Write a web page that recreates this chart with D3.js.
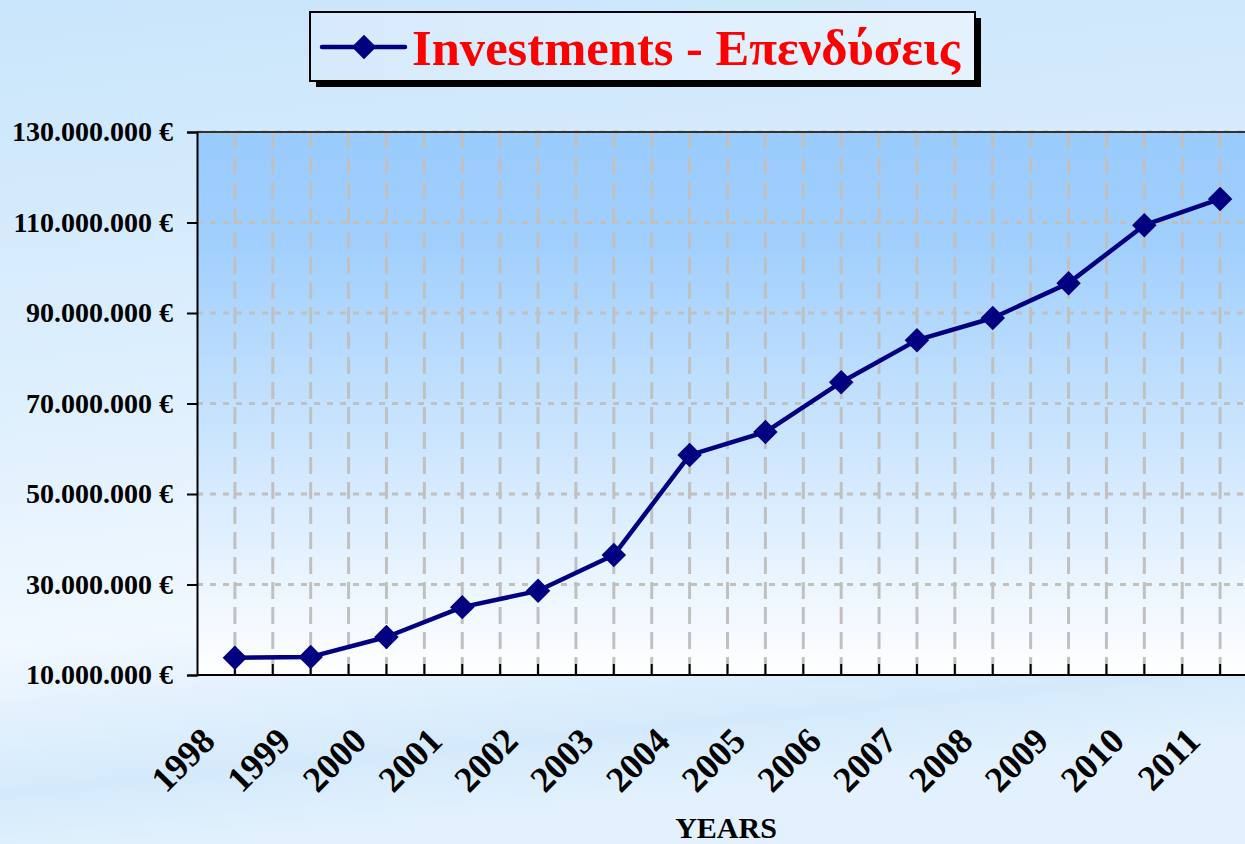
<!DOCTYPE html>
<html lang="en">
<head>
<meta charset="UTF-8">
<title>Investments</title>
<style>
  html, body { margin: 0; padding: 0; overflow: hidden; }
  text { font-family: "Liberation Serif", "DejaVu Serif", serif; font-weight: bold; }
</style>
</head>
<body>
<div id="chart"></div>
<script src="https://cdn.jsdelivr.net/npm/d3@7"></script>
<script>
// data
const years = ["1998","1999","2000","2001","2002","2003","2004","2005","2006","2007","2008","2009","2010","2011"];
const investments = [13.8e6, 14.0e6, 18.4e6, 25.0e6, 28.6e6, 36.5e6, 58.6e6, 63.7e6, 74.7e6, 84.0e6, 88.9e6, 96.6e6, 109.4e6, 115.2e6];
const yTicks = [10e6, 30e6, 50e6, 70e6, 90e6, 110e6, 130e6];
const seriesName = "Investments - Επενδύσεις";
const xTitle = "YEARS";

const [width, height] = [1245, 844];
const plot = {left: 197, top: 132, right: 1258, bottom: 675};

const svg = d3.select("#chart").append("svg")
    .attr("width", width)
    .attr("height", height);

const defs = svg.append("defs");
const bg = defs.append("linearGradient").attr("id", "bg")
    .attr("x1", 0).attr("y1", 0).attr("x2", 0.15).attr("y2", 1);
bg.append("stop").attr("offset", "0%").attr("stop-color", "#c9e5fb");
bg.append("stop").attr("offset", "45%").attr("stop-color", "#ddeffd");
bg.append("stop").attr("offset", "75%").attr("stop-color", "#f1f8ff");
bg.append("stop").attr("offset", "92%").attr("stop-color", "#d4eafb");
bg.append("stop").attr("offset", "100%").attr("stop-color", "#e2f1fd");

const pg = defs.append("linearGradient").attr("id", "plotbg")
    .attr("x1", 0).attr("y1", 0).attr("x2", 0).attr("y2", 1);
pg.append("stop").attr("offset", "0%").attr("stop-color", "#99cbfd");
pg.append("stop").attr("offset", "20%").attr("stop-color", "#a0cffd");
pg.append("stop").attr("offset", "100%").attr("stop-color", "#ffffff");

const lg = defs.append("linearGradient").attr("id", "legbg")
    .attr("x1", 0).attr("y1", 0).attr("x2", 1).attr("y2", 0);
lg.append("stop").attr("offset", "0%").attr("stop-color", "#d5eafc");
lg.append("stop").attr("offset", "100%").attr("stop-color", "#e6f3fe");

svg.append("rect").attr("width", width).attr("height", height).attr("fill", "url(#bg)");

const x = d3.scaleBand().domain(years).range([plot.left, plot.right]).padding(0);
const y = d3.scaleLinear().domain([10e6, 130e6]).range([plot.bottom, plot.top]);

// plot area
svg.append("rect")
    .attr("x", plot.left).attr("y", plot.top)
    .attr("width", plot.right - plot.left).attr("height", plot.bottom - plot.top)
    .attr("fill", "url(#plotbg)");

// vertical grid: at every band edge and band centre
const half = x.bandwidth() / 2;
const gridX = [];
years.forEach(yr => { gridX.push(x(yr)); gridX.push(x(yr) + half); });
gridX.push(plot.right);

svg.append("g").selectAll("line").data(gridX.slice(1)).join("line")
    .attr("x1", d => d).attr("x2", d => d)
    .attr("y1", plot.top).attr("y2", plot.bottom)
    .attr("stroke", "#c0c0c0").attr("stroke-width", 3)
    .attr("stroke-dasharray", "17,8");

// horizontal grid
svg.append("g").selectAll("line").data(yTicks.slice(1)).join("line")
    .attr("x1", plot.left).attr("x2", plot.right)
    .attr("y1", d => y(d)).attr("y2", d => y(d))
    .attr("stroke", "#c0c0c0").attr("stroke-width", 3)
    .attr("stroke-dasharray", "6,7");

// top border
svg.append("line")
    .attr("x1", plot.left).attr("x2", plot.right)
    .attr("y1", plot.top).attr("y2", plot.top)
    .attr("stroke", "#333").attr("stroke-width", 2);

// y axis
const loc = d3.formatLocale({decimal: ",", thousands: ".", grouping: [3], currency: ["", " €"]});
const yAxis = d3.axisLeft(y).tickValues(yTicks).tickSize(10).tickPadding(14)
    .tickFormat(d => loc.format(",")(d) + " €");
const gy = svg.append("g").attr("transform", `translate(${plot.left},0)`).call(yAxis);
gy.select(".domain").attr("stroke", "#000").attr("stroke-width", 2);
gy.selectAll(".tick line").attr("stroke", "#000").attr("stroke-width", 2);
gy.selectAll(".tick text").attr("fill", "#000").attr("font-size", 28)
    .attr("font-family", "Liberation Serif").attr("font-weight", "bold");

// x axis: inside ticks at every grid position
const gx = svg.append("g");
gx.append("line")
    .attr("x1", plot.left).attr("x2", plot.right)
    .attr("y1", plot.bottom).attr("y2", plot.bottom)
    .attr("stroke", "#000").attr("stroke-width", 2);
gx.selectAll("line.tk").data(gridX.slice(1)).join("line").attr("class", "tk")
    .attr("x1", d => d).attr("x2", d => d)
    .attr("y1", plot.bottom - 11).attr("y2", plot.bottom)
    .attr("stroke", "#000").attr("stroke-width", 2);
gx.selectAll("text").data(years).join("text")
    .attr("transform", d => `translate(${x(d) + half - 18},${plot.bottom + 68}) rotate(-45)`)
    .attr("text-anchor", "end")
    .attr("font-size", 36)
    .attr("fill", "#000")
    .text(d => d);

svg.append("text")
    .attr("x", 726).attr("y", 838)
    .attr("text-anchor", "middle")
    .attr("font-size", 30)
    .attr("fill", "#000")
    .text(xTitle);

// series
const pts = years.map((yr, i) => [x(yr) + half, y(investments[i])]);
svg.append("path")
    .attr("d", d3.line()(pts))
    .attr("fill", "none").attr("stroke", "#000080").attr("stroke-width", 4.5)
    .attr("stroke-linejoin", "round");

const diamond = d3.symbol().type(d3.symbolSquare).size(300);
svg.append("g").selectAll("path").data(pts).join("path")
    .attr("d", diamond)
    .attr("transform", d => `translate(${d[0]},${d[1]}) rotate(45)`)
    .attr("fill", "#000080");

// legend
const leg = svg.append("g");
leg.append("rect").attr("x", 316).attr("y", 18).attr("width", 665).attr("height", 69).attr("fill", "#000");
leg.append("rect").attr("x", 310).attr("y", 12).attr("width", 665).attr("height", 69)
    .attr("fill", "url(#legbg)").attr("stroke", "#000").attr("stroke-width", 2);
leg.append("line").attr("x1", 322).attr("x2", 405).attr("y1", 47).attr("y2", 47)
    .attr("stroke", "#000080").attr("stroke-width", 4.5).attr("stroke-linecap", "round");
leg.append("path").attr("d", diamond).attr("transform", "translate(364,47) rotate(45)").attr("fill", "#000080");
leg.append("text").attr("x", 412).attr("y", 65)
    .attr("font-size", 50).attr("fill", "#ff0000")
    .attr("textLength", 548).attr("lengthAdjust", "spacingAndGlyphs")
    .text(seriesName);
</script>
</body>
</html>
